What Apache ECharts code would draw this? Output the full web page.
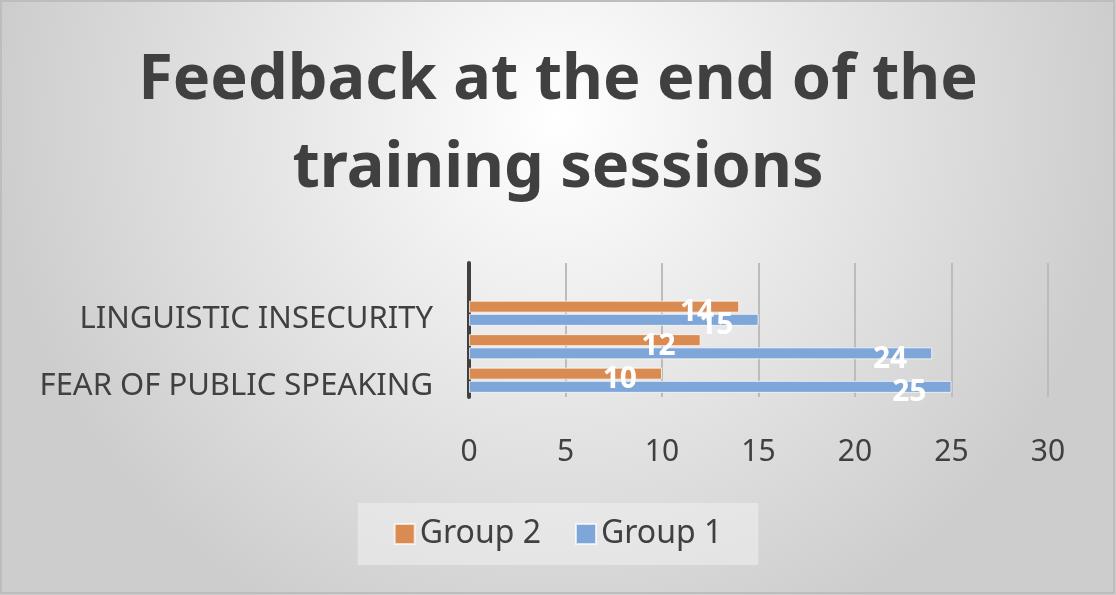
<!DOCTYPE html>
<html>
<head>
<meta charset="utf-8">
<script src="https://cdn.jsdelivr.net/npm/echarts@6/dist/echarts.min.js"></script>
<style>
html,body{margin:0;padding:0;background:#fff;}
#chart{width:1116px;height:595px;}
</style>
</head>
<body>
<div id="chart"></div>
<script>
const titleText = 'Feedback at the end of the\ntraining sessions';
const categories = ['FEAR OF PUBLIC SPEAKING', '', 'LINGUISTIC INSECURITY'];
const group1 = [25, 24, 15];
const group2 = [10, 12, 14];
const xTicks = [0, 5, 10, 15, 20, 25, 30];

const FONT = '"Noto Sans", sans-serif';
const chart = echarts.init(document.getElementById('chart'));
const barLabel = {show: true, position: 'insideRight', distance: 25, offset: [0, 6],
  fontFamily: FONT, fontWeight: 'bold', fontSize: 30, color: '#ffffff'};
chart.setOption({
  backgroundColor: new echarts.graphic.RadialGradient(0.5, 0.2, 0.95, [
    {offset: 0, color: '#ffffff'},
    {offset: 1, color: '#cdcdcd'}
  ]),
  animation: false,
  graphic: [{
    type: 'rect', shape: {x: 1, y: 1, width: 1113, height: 592},
    style: {fill: 'none', stroke: '#bdbdbd', lineWidth: 2}, silent: true
  }],
  title: {
    text: titleText,
    left: 'center',
    top: 32,
    textStyle: {fontFamily: FONT, fontWeight: 'bold', fontSize: 63, lineHeight: 88, color: '#404040'}
  },
  legend: {
    data: ['Group 2', 'Group 1'],
    bottom: 30,
    left: 'center',
    itemWidth: 20, itemHeight: 20, itemGap: 34,
    icon: 'rect',
    padding: [15, 36],
    backgroundColor: 'rgba(240,240,240,0.55)',
    textStyle: {fontFamily: FONT, fontSize: 32, color: '#404040'}
  },
  grid: {left: 469, right: 68, top: 263, height: 134},
  xAxis: {
    type: 'value', min: 0, max: 30, interval: 5,
    axisLine: {show: false}, axisTick: {show: false},
    splitLine: {lineStyle: {color: '#bcbcbc', width: 2}},
    axisLabel: {
      margin: 40, fontFamily: FONT, fontSize: 30, color: '#404040',
      formatter: v => xTicks.includes(v) ? String(v) : ''
    }
  },
  yAxis: {
    type: 'category', data: categories, max: 3,
    axisLine: {show: true, lineStyle: {color: '#404040', width: 4}},
    axisTick: {show: false},
    splitLine: {show: false},
    axisLabel: {interval: 1, margin: 36,
      formatter: v => v ? '{a|' + v + '}' : '',
      rich: {a: {fontFamily: FONT, fontSize: 31, color: '#404040', padding: [12, 0, 0, 0]}}}
  },
  series: [
    {
      name: 'Group 2', type: 'bar', data: group2, barWidth: 12, barGap: '10%',
      itemStyle: {color: '#D98B52', borderColor: 'rgba(255,255,255,0.7)', borderWidth: 1},
      label: barLabel
    },
    {
      name: 'Group 1', type: 'bar', data: group1, barWidth: 12, barGap: '10%',
      itemStyle: {color: '#7FA6D8', borderColor: 'rgba(255,255,255,0.7)', borderWidth: 1},
      label: barLabel
    }
  ]
});
</script>
</body>
</html>
